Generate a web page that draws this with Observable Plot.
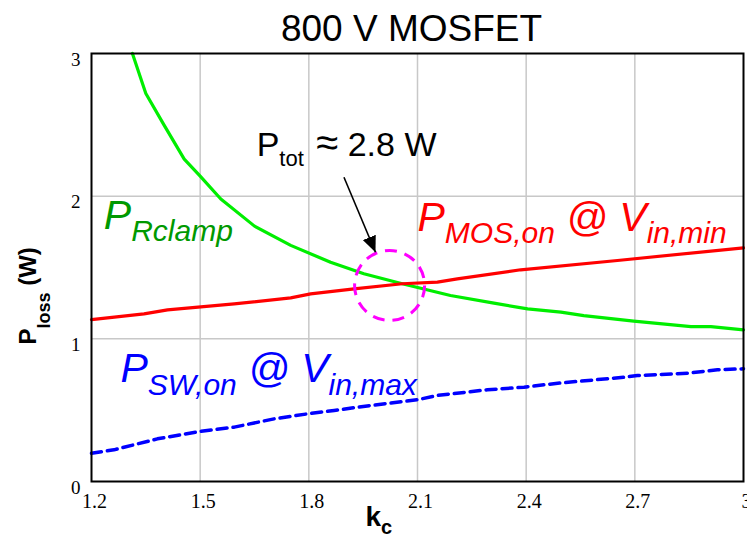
<!DOCTYPE html>
<html><head><meta charset="utf-8">
<script src="https://cdn.jsdelivr.net/npm/d3@7"></script>
<script src="https://cdn.jsdelivr.net/npm/@observablehq/plot@0.6"></script>
<style>body{margin:0;background:#fff} svg{display:block}</style>
</head><body><div id="chart"></div>
<script>
// ---- data ----
const kcRclamp = [1.313,1.35,1.40,1.456,1.50,1.557,1.65,1.75,1.86,1.952,2.058,2.191,2.311,2.404,2.496,2.559,2.697,2.855,2.91,3.0];
const pRclamp  = [3.0,2.72,2.50,2.26,2.14,1.98,1.79,1.655,1.537,1.456,1.386,1.304,1.250,1.210,1.187,1.163,1.124,1.086,1.086,1.063];
const kcMos = [1.2,1.345,1.41,1.594,1.75,1.805,1.925,2.058,2.155,2.21,2.385,2.652,3.0];
const pMos  = [1.135,1.175,1.203,1.245,1.287,1.315,1.350,1.386,1.397,1.420,1.484,1.549,1.638];
const kcSw = [1.2,1.262,1.382,1.502,1.594,1.704,1.796,1.870,1.971,2.100,2.155,2.293,2.394,2.487,2.670,2.707,2.846,2.928,3.0];
const pSw  = [0.198,0.222,0.299,0.352,0.381,0.439,0.474,0.498,0.533,0.573,0.603,0.643,0.661,0.689,0.731,0.743,0.759,0.783,0.790];
const xTicks = [1.2,1.5,1.8,2.1,2.4,2.7,3];
const yTicks = [0,1,2,3];
const titleText = "800 V MOSFET";
const xLabel = "k_{c}";
const yLabel = "P_{loss} (W)";
const labelRclamp = "P_{Rclamp}";
const labelMos = "P_{MOS,on} @ V_{in,min}";
const labelSw = "P_{SW,on} @ V_{in,max}";
const labelTot = "P_{tot} !{≈} 2.8 W";
// annotation anchors (data coordinates)
const annRclamp = {x: 1.234, y: 1.77};
const annMos = {x: 2.100, y: 1.759};
const annSw = {x: 1.280, y: 0.696};
const annTot = {x: 1.656, y: 2.285};
const optimum = {x: 2.023, y: 1.374};
const arrowFrom = {x: 1.897, y: 2.133};
const arrowTo = {x: 1.984, y: 1.607};

const rows = (xs, ys) => xs.map((x, i) => ({x, y: ys[i]}));

// markup styling: [subFontSize, downShift, bigFontSize, gapAfterSub]
const markStyle = {
  [labelRclamp]: [30, 12, 0, 0],
  [labelMos]: [30, 12, 0, 0],
  [labelSw]: [30, 13, 0, 0],
  [labelTot]: [22, 10, 40, 3],
  [xLabel]: [20, 8, 0, 0],
  [yLabel]: [18, 14, 0, 0]
};

const sans = "'Liberation Sans', Arial, sans-serif";

function filledArrow(color) {
  const m = d3.create("svg:marker")
    .attr("viewBox", "0 -7 16 14")
    .attr("markerWidth", 16).attr("markerHeight", 14)
    .attr("markerUnits", "userSpaceOnUse")
    .attr("refX", 16).attr("refY", 0)
    .attr("orient", "auto");
  m.append("path").attr("d", "M0,-7L16,0L0,7Z").attr("fill", color).attr("stroke", "none");
  return m.node();
}

const chart = Plot.plot({
  width: 747, height: 537,
  marginLeft: 91, marginRight: 4, marginTop: 53, marginBottom: 56,
  x: {domain: [1.2, 3]},
  y: {domain: [0, 3]},
  style: {fontFamily: "'Liberation Serif', 'Times New Roman', serif", fontSize: "19px", background: "#fff", overflow: "visible", color: "black"},
  marks: [
    Plot.gridX(xTicks.slice(1, -1), {stroke: "#c8c8c8", strokeOpacity: 1, strokeWidth: 1.5}),
    Plot.gridY(yTicks.slice(1, -1), {stroke: "#c8c8c8", strokeOpacity: 1, strokeWidth: 1.5}),
    Plot.line(rows(kcRclamp, pRclamp), {x: "x", y: "y", stroke: "#00ee00", strokeWidth: 3.2}),
    Plot.line(rows(kcMos, pMos), {x: "x", y: "y", stroke: "#ff0000", strokeWidth: 3.2}),
    Plot.line(rows(kcSw, pSw), {x: "x", y: "y", stroke: "#0000ff", strokeWidth: 3.5, strokeDasharray: "10,6"}),
    Plot.dot([optimum], {x: "x", y: "y", r: 35, fill: "none", stroke: "#ff00ff", strokeWidth: 3, strokeDasharray: "12,8"}),
    Plot.link([{x1: arrowFrom.x, y1: arrowFrom.y, x2: arrowTo.x, y2: arrowTo.y}], {x1: "x1", y1: "y1", x2: "x2", y2: "y2", stroke: "black", strokeWidth: 1.6, markerEnd: filledArrow}),
    Plot.frame({stroke: "black", strokeWidth: 2}),
    Plot.axisX(xTicks, {tickSize: 0, tickPadding: 12, dx: 3, fontSize: 20, label: null, tickFormat: d => d === 3 ? "3" : d.toFixed(1)}),
    Plot.axisY(yTicks, {tickSize: 0, tickPadding: 11, dy: 6, fontSize: 19, label: null, tickFormat: d => String(d)}),
    Plot.text([titleText], {frameAnchor: "top", dx: -6, dy: -13, lineAnchor: "bottom", fontSize: 37, fontFamily: sans, fill: "black"}),
    Plot.text([xLabel], {frameAnchor: "bottom", textAnchor: "start", lineAnchor: "bottom", dx: -52, dy: 44, fontSize: 28, fontWeight: "bold", fontFamily: sans, fill: "black"}),
    Plot.text([yLabel], {frameAnchor: "left", rotate: -90, textAnchor: "start", lineAnchor: "bottom", dx: -56, dy: 77, fontSize: 24, fontWeight: "bold", fontFamily: sans, fill: "black"}),
    Plot.text([annRclamp], {x: "x", y: "y", text: () => labelRclamp, textAnchor: "start", lineAnchor: "bottom", fontSize: 41, fontStyle: "italic", fontFamily: sans, fill: "#009900"}),
    Plot.text([annMos], {x: "x", y: "y", text: () => labelMos, textAnchor: "start", lineAnchor: "bottom", fontSize: 41, fontStyle: "italic", fontFamily: sans, fill: "#ff0000"}),
    Plot.text([annSw], {x: "x", y: "y", text: () => labelSw, textAnchor: "start", lineAnchor: "bottom", fontSize: 41, fontStyle: "italic", fontFamily: sans, fill: "#0000ff"}),
    Plot.text([annTot], {x: "x", y: "y", text: () => labelTot, textAnchor: "start", lineAnchor: "bottom", fontSize: 34, fontFamily: sans, fill: "black"})
  ]
});

// turn "_{...}" into subscript tspans and "!{...}" into enlarged tspans
const ns = "http://www.w3.org/2000/svg";
d3.select(chart).selectAll("text").each(function () {
  const s = this.textContent;
  if (!s.includes("_{") && !s.includes("!{")) return;
  const [subSize, shift, bigSize, gap] = markStyle[s] || [14, 8, 0, 0];
  const parts = [];
  const re = /([_!])\{([^}]*)\}/g;
  let last = 0, m;
  while ((m = re.exec(s))) {
    if (m.index > last) parts.push({t: s.slice(last, m.index), k: "n"});
    parts.push({t: m[2], k: m[1] === "_" ? "sub" : "big"});
    last = re.lastIndex;
  }
  if (last < s.length) parts.push({t: s.slice(last), k: "n"});
  this.textContent = "";
  let down = 0, prevSub = false;
  for (const p of parts) {
    const ts = document.createElementNS(ns, "tspan");
    ts.textContent = p.t;
    if (p.k === "sub") {
      ts.setAttribute("font-size", subSize);
      ts.setAttribute("dy", shift - down);
      down = shift;
    } else {
      if (down) ts.setAttribute("dy", -down);
      down = 0;
      if (prevSub && gap) ts.setAttribute("dx", gap);
      if (p.k === "big" && bigSize) ts.setAttribute("font-size", bigSize);
    }
    prevSub = p.k === "sub";
    this.appendChild(ts);
  }
});
document.getElementById("chart").appendChild(chart);
</script>
</body></html>
